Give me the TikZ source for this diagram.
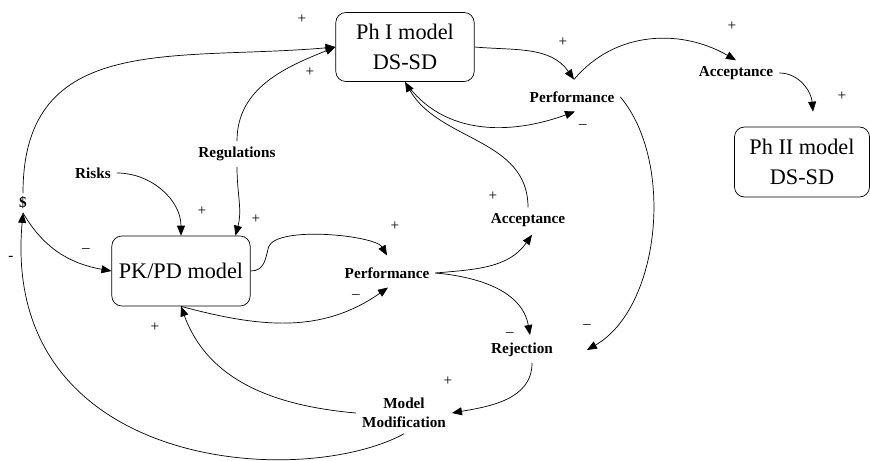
\documentclass[tikz,border=0pt]{standalone}
\usepackage{fontspec}
\setmainfont{Liberation Serif}
\usetikzlibrary{arrows.meta,calc}

\begin{document}
\begin{tikzpicture}[x=0.3mm,y=0.3mm,
        modelBox/.style={
            rectangle,
            draw,
            line width=0.6pt,
            rounded corners=3mm,
            align=center,
            minimum width=41.5mm,
            minimum height=20.7mm,
            font=\fontsize{19}{25}\selectfont
        },
        labelText/.style={
            align=center,
            inner sep=5pt,
            font=\fontsize{13}{16}\selectfont\bfseries
        },
        signText/.style={
            inner sep=0pt,
            font=\fontsize{13}{15}\selectfont
        },
        link/.style={
            line width=0.6pt,
            -{Triangle[length=3mm,width=2.4mm]}
        }
    ]

        \useasboundingbox (0,0) rectangle (870,-460);

        % model boxes
        \node[modelBox] (ph1) at (405,-47) {Ph I model\\DS-SD};
        \node[modelBox, minimum width=40.5mm, minimum height=21mm] (ph2) at (802,-162) {Ph II model\\DS-SD};
        \node[modelBox, minimum height=21mm] (pkpd) at (181,-271) {PK/PD model};

        % variables
        \node[labelText] (perfTop) at (572,-97) {Performance};
        \node[labelText] (accTop) at (736,-73) {Acceptance};
        \node[labelText] (regul) at (237,-154) {Regulations};
        \node[labelText] (risks) at (93,-173) {Risks};
        \node[labelText, inner sep=3pt] (dollar) at (23,-203) {\$};
        \node[labelText] (accMid) at (528,-220) {Acceptance};
        \node[labelText] (perfMid) at (387,-273) {Performance};
        \node[labelText] (reject) at (522,-350) {Rejection};
        \node[labelText] (modmod) at (404,-413) {Model\\Modification};

        % arrival points
        \coordinate (perfTopIn) at ($(perfTop.north)+(2,6)$);
        \coordinate (ph2In) at ($(ph2.north)+(11,15)$);
        \coordinate (rejectIn) at ($(reject.east)+(28,0)$);

        \draw[link] (dollar.north) to[out=90,in=185,looseness=1.2] (ph1.west);
        \draw[link] (regul.north) to[out=90,in=202] (ph1.west);
        \draw[link] (regul.south) to[out=-90,in=75] (pkpd.33);
        \draw[link] (risks.east) to[out=0,in=90] (pkpd.north);
        \draw[link] (dollar.south) to[out=-60,in=170] (pkpd.west);
        \draw[link] (modmod.south) .. controls (300,-490) and (0,-470) .. (dollar.south);
        \draw[link] (modmod.west) to[out=175,in=-70] (pkpd.south);

        \draw[link] (pkpd.east) .. controls +(14,0) and +(-3,-12) .. ++(18,24)
            to[out=70,in=120,looseness=0.5] ($(perfMid.north)+(0,6)$);
        \draw[link] (pkpd.south) to[out=-15,in=215] ($(perfMid.south)+(1,-3)$);
        \draw[link] (perfMid.east) to[out=5,in=235] ($(accMid.south)+(4,-2)$);
        \draw[link] (perfMid.east) to[out=-5,in=100] ($(reject.north)+(8,2)$);
        \draw[link] (accMid.north) to[out=90,in=-60] (ph1.south);

        \draw[link] (ph1.south) to[out=-55,in=200] ($(perfTop.south)+(3,-3)$);
        \draw[link] (ph1.east) to[out=-5,in=125] (perfTopIn);
        \draw[link] (perfTopIn) to[out=50,in=150] (accTop.north);
        \draw[link] (accTop.east) to[out=0,in=95] (ph2In);
        \draw[link] (perfTop.east) to[out=-50,in=30,looseness=0.85] (rejectIn);
        \draw[link] ($(reject.south)+(10,0)$) to[out=-90,in=10] (modmod.east);

        % polarities
        \foreach \x/\y [count=\i] in {302/19,310/72,202/211,256/219,395/226,493/196,563/42,732/26,842/96,155/327,448/381} {
            \node[signText] (plus\i) at (\x,-\y) {+};
        }
        \foreach \x/\y [count=\i] in {583/127,86/251,356/297,510/335,587/327} {
            \node[signText] (minus\i) at (\x,-\y) {–};
        }
        \node[signText] (minus6) at (11,-258) {-};

    \end{tikzpicture}
\end{document}
